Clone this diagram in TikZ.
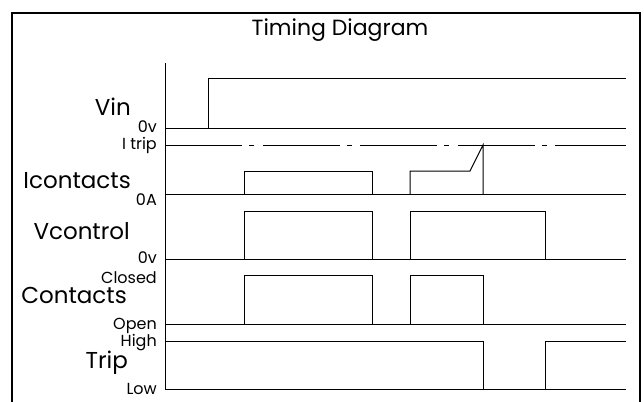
\documentclass[tikz,border=0pt]{standalone}
\usepackage{fontspec}
\newfontfamily\gfont{Poppins}
\begin{document}
\begin{tikzpicture}[x=1pt,y=-1pt,
  wave/.style={line width=1pt,line join=miter},
  frame/.style={line width=1.3pt},
  biglabel/.style={font=\gfont\fontsize{23}{23}\selectfont,anchor=base east,inner sep=0pt},
  smalllabel/.style={font=\gfont\fontsize{16}{16}\selectfont,anchor=base east,inner sep=0pt},
  titlelabel/.style={font=\gfont\fontsize{22}{22}\selectfont,anchor=base,inner sep=0pt},
  tripline/.style={line width=1pt,dash pattern=on 77pt off 7pt on 5pt off 8.5pt}]
\useasboundingbox (0,0) rectangle (644,401);
\begin{scope}
\clip (0,0) rectangle (644,401);
\draw[frame] (12,13) rectangle (640,430);
\end{scope}
% title
\node[titlelabel] (title) at (340,36) {Timing Diagram};
% labels
\node[biglabel] (vin) at (131,115) {Vin};
\node[smalllabel] (vin0) at (157,132) {0v};
\node[smalllabel] (itrip) at (157,149) {I trip};
\node[biglabel] (icont) at (131,188) {Icontacts};
\node[smalllabel] (a0) at (157,205) {0A};
\node[biglabel] (vctrl) at (130,239) {Vcontrol};
\node[smalllabel] (vc0) at (157,263) {0v};
\node[smalllabel] (closed) at (157,283) {Closed};
\node[biglabel] (cont) at (127,303) {Contacts};
\node[smalllabel] (open) at (157,329) {Open};
\node[smalllabel] (high) at (157,346) {High};
\node[biglabel] (trip) at (128,368) {Trip};
\node[smalllabel] (low) at (157,394) {Low};
% axis
\draw[wave] (165,63) -- (165,389);
% Vin
\draw[wave] (165,128) -- (626,128);
\draw[wave] (208,128) -- (208,79) -- (626,79);
% I trip
\draw[tripline] (165,145) -- (626,145);
% Icontacts
\draw[wave] (165,194) -- (626,194);
\draw[wave] (244,194) -- (244,171) -- (372,171) -- (372,194);
\draw[wave] (410,194) -- (410,171) -- (470,171) -- (483,145) -- (483,194);
% Vcontrol
\draw[wave] (165,259) -- (626,259);
\draw[wave] (244,259) -- (244,211) -- (372,211) -- (372,259);
\draw[wave] (410,259) -- (410,211) -- (545,211) -- (545,259);
% Contacts
\draw[wave] (165,324) -- (626,324);
\draw[wave] (244,324) -- (244,275) -- (372,275) -- (372,324);
\draw[wave] (410,324) -- (410,275) -- (483,275) -- (483,324);
% Trip
\draw[wave] (165,341) -- (483,341) -- (483,389);
\draw[wave] (545,389) -- (545,341) -- (626,341);
\draw[wave] (165,389) -- (626,389);
\end{tikzpicture}
\end{document}
